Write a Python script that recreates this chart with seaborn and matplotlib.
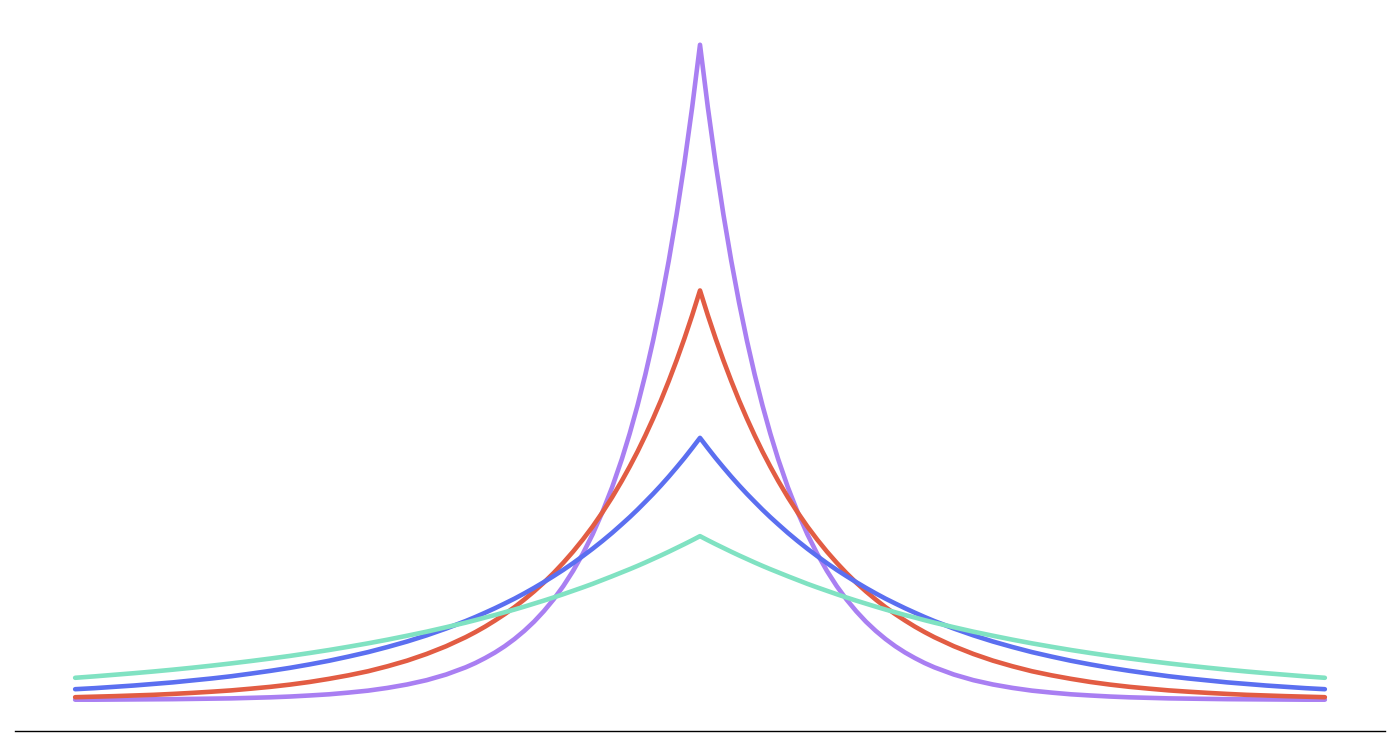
import numpy as np
import pandas as pd
import matplotlib
matplotlib.use("Agg")
import matplotlib.pyplot as plt
import seaborn as sns

x_right = [0.0, 0.1, 0.2, 0.3, 0.4, 0.5, 0.6, 0.7, 0.8, 0.9, 1.0,
           1.125, 1.25, 1.375, 1.5, 1.625, 1.75, 1.875, 2.0,
           2.125, 2.25, 2.375, 2.5, 2.625, 2.75, 2.875, 3.0,
           3.25, 3.5, 3.75, 4.0, 4.25, 4.5, 4.75, 5.0,
           5.25, 5.5, 5.75, 6.0, 6.25, 6.5, 6.75, 7.0,
           7.25, 7.5, 7.75, 8.0]

purple_right = [0.5, 0.4524, 0.4094, 0.3704, 0.3352, 0.3033, 0.2744, 0.2483, 0.2247, 0.2033, 0.1839,
                0.1623, 0.1433, 0.1264, 0.1116, 0.0985, 0.0869, 0.0767, 0.0677,
                0.0597, 0.0527, 0.0465, 0.0410, 0.0362, 0.0320, 0.0282, 0.0249,
                0.0194, 0.0151, 0.0118, 0.0092, 0.0071, 0.0056, 0.0043, 0.0034,
                0.0026, 0.0020, 0.0016, 0.0012, 0.0010, 0.0008, 0.0006, 0.0005,
                0.0004, 0.0003, 0.0002, 0.0002]
red_right = [0.3125, 0.2936, 0.2758, 0.2591, 0.2434, 0.2286, 0.2148, 0.2018, 0.1895, 0.1781, 0.1673,
             0.1547, 0.1431, 0.1323, 0.1224, 0.1132, 0.1047, 0.0968, 0.0895,
             0.0828, 0.0766, 0.0708, 0.0655, 0.0606, 0.0560, 0.0518, 0.0479,
             0.0410, 0.0351, 0.0300, 0.0257, 0.0219, 0.0188, 0.0161, 0.0137,
             0.0117, 0.0100, 0.0086, 0.0073, 0.0063, 0.0054, 0.0046, 0.0039,
             0.0034, 0.0029, 0.0025, 0.0021]
blue_right = [0.2, 0.1922, 0.1846, 0.1774, 0.1704, 0.1637, 0.1573, 0.1512, 0.1452, 0.1395, 0.1341,
              0.1275, 0.1213, 0.1154, 0.1098, 0.1044, 0.0993, 0.0945, 0.0899,
              0.0855, 0.0813, 0.0773, 0.0736, 0.0700, 0.0666, 0.0633, 0.0602,
              0.0545, 0.0493, 0.0446, 0.0404, 0.0365, 0.0331, 0.0299, 0.0271,
              0.0245, 0.0222, 0.0201, 0.0181, 0.0164, 0.0149, 0.0134, 0.0122,
              0.0110, 0.0100, 0.0090, 0.0082]
green_right = [0.125, 0.1219, 0.1189, 0.1160, 0.1131, 0.1103, 0.1076, 0.1049, 0.1023, 0.0998, 0.0974,
               0.0944, 0.0915, 0.0886, 0.0859, 0.0833, 0.0807, 0.0782, 0.0758,
               0.0735, 0.0712, 0.0690, 0.0669, 0.0648, 0.0629, 0.0609, 0.0590,
               0.0555, 0.0521, 0.0490, 0.0460, 0.0432, 0.0406, 0.0381, 0.0358,
               0.0336, 0.0316, 0.0297, 0.0279, 0.0262, 0.0246, 0.0231, 0.0217,
               0.0204, 0.0192, 0.0180, 0.0169]

series_names = ["purple", "red", "blue", "green"]
series_right = [purple_right, red_right, blue_right, green_right]
colors = ["#a97ff2", "#e25c43", "#5b6ff0", "#80e2c2"]

# the curves are symmetric about x = 0: mirror the read right halves
x_full = [-v for v in x_right[:0:-1]] + x_right
frames = []
for name, vals in zip(series_names, series_right):
    y_full = vals[:0:-1] + vals
    frames.append(pd.DataFrame({"x": x_full, "y": y_full, "series": name}))
df = pd.concat(frames, ignore_index=True)

sns.set_style("white")
fig = plt.figure(figsize=(14, 7.46), dpi=100)
ax = fig.add_axes([15 / 1400, 15 / 746, 1370 / 1400, 719 / 746])

sns.lineplot(data=df, x="x", y="y", hue="series", hue_order=series_names,
             palette=colors, linewidth=3.3, legend=False, ax=ax, sort=False)

ax.set_xlim(-8.77, 8.77)
ax.set_ylim(-0.0237, 0.525)
for s in ["top", "left", "right"]:
    ax.spines[s].set_visible(False)
ax.spines["bottom"].set_color("black")
ax.spines["bottom"].set_linewidth(1.0)
ax.set_xticks([])
ax.set_yticks([])
ax.set_xlabel("")
ax.set_ylabel("")

fig.savefig("out.png", dpi=100)
